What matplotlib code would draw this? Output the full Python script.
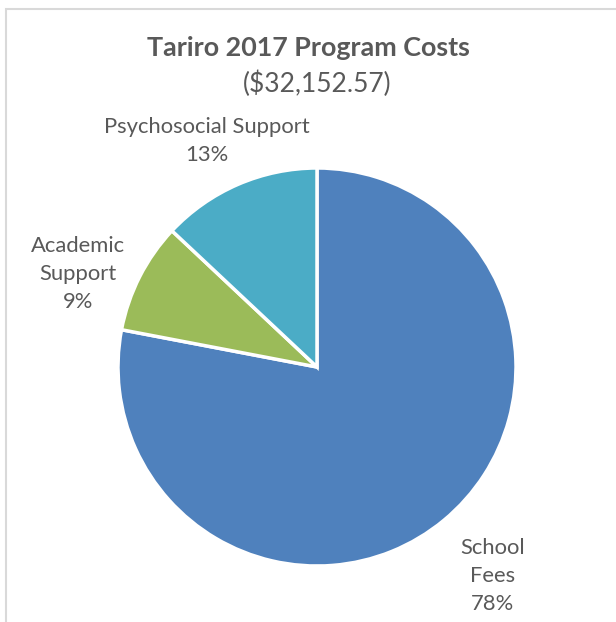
import numpy as np
import matplotlib
matplotlib.use("Agg")
import matplotlib.pyplot as plt
from matplotlib.patches import Rectangle

# data
categories = ["School\nFees", "Academic\nSupport", "Psychosocial Support"]
shares = [78, 9, 13]
colors = ["#4F81BD", "#9BBB59", "#4BACC6"]
# label placement: (angle offset from wedge middle in deg, distance in radii)
label_pos = [(0.4, 1.37), (5.8, 1.29), (2.6, 1.263)]

title = "Tariro 2017 Program Costs"
subtitle = "($32,152.57)"

plt.rcParams["font.family"] = ["Lato", "DejaVu Sans"]
text_color = "#595959"

W, H = 616, 622
fig = plt.figure(figsize=(W / 100, H / 100), dpi=100)

# chart frame (cut off at right and bottom)
fig.patches.append(Rectangle((6 / W, -0.1), 1.2, 1 - 9 / H + 0.1, transform=fig.transFigure,
                             fill=False, edgecolor="#D9D9D9", linewidth=1.5))

cx, cy, r = 317, 367, 199
ax = fig.add_axes([(cx - r) / W, 1 - (cy + r) / H, 2 * r / W, 2 * r / H])
wedges, _ = ax.pie(shares, colors=colors, startangle=90, counterclock=False, radius=1,
                   wedgeprops=dict(edgecolor="white", linewidth=2.5))
ax.set_xlim(-1, 1)
ax.set_ylim(-1, 1)
ax.set_aspect("equal")
ax.axis("off")

for w, name, s, (off, d) in zip(wedges, categories, shares, label_pos):
    ang = np.deg2rad((w.theta1 + w.theta2) / 2 + off)
    ax.text(d * np.cos(ang), d * np.sin(ang), f"{name}\n{s}%", ha="center", va="center",
            fontsize=15.8, color=text_color, linespacing=1.52, clip_on=False)

fig.text(308 / W, 1 - 48 / H, title, ha="center", va="center", fontsize=19.4,
         fontweight="bold", color=text_color)
fig.text(317 / W, 1 - 84 / H, subtitle, ha="center", va="center", fontsize=19,
         color=text_color)

fig.savefig("out.png", dpi=100)
